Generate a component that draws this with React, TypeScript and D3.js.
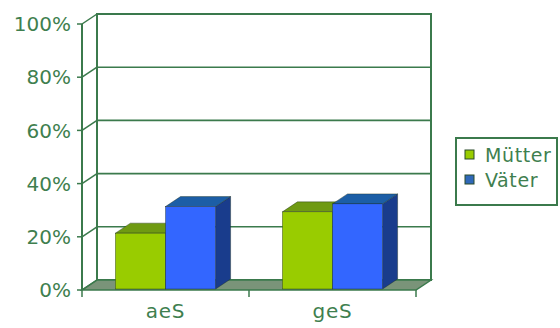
import React from "react";
import * as d3 from "d3";

const categories = ["aeS", "geS"];
const seriesNames = ["Mütter", "Väter"];
const muetter = [0.21, 0.29];
const vaeter = [0.31, 0.32];
const yTicks = [0, 0.2, 0.4, 0.6, 0.8, 1];

const frontColors = ["#99cc00", "#3366ff"];
const topColors = ["#6f9a12", "#1c5ea6"];
const sideColors = ["#5a7f05", "#193c8c"];
const legendColors = ["#99cc00", "#2f68b8"];
const lineColor = "#3b7a4c";
const textColor = "#3f7f4f";

const App: React.FC = () => {
  const width = 560;
  const height = 328;
  const dx = 15;
  const dy = -10;

  const y = d3.scaleLinear().domain([0, 1]).range([290, 24]);
  const x = d3
    .scaleBand<string>()
    .domain(categories)
    .range([82, 416])
    .paddingInner(0.4)
    .paddingOuter(0.2);
  const xs = d3
    .scaleBand<string>()
    .domain(seriesNames)
    .range([0, x.bandwidth()]);

  const series = [muetter, vaeter];
  const x0 = x.range()[0];
  const x1 = x.range()[1];
  const y0 = y(0);

  // band edges for the category ticks
  const edges = d3
    .range(categories.length + 1)
    .map((i) => x0 + (i * (x1 - x0)) / categories.length);

  return (
    <svg
      width={width}
      height={height}
      style={{ position: "fixed", left: 0, top: 0, background: "#fff" }}
      fontFamily="DejaVu Sans, Verdana, sans-serif"
    >
      {/* back wall */}
      <rect
        x={x0 + dx}
        y={y(1) + dy}
        width={x1 - x0}
        height={y0 - y(1)}
        fill="#fff"
        stroke={lineColor}
        strokeWidth={2}
      />
      {/* gridlines */}
      {yTicks.map((t) => (
        <line
          key={"g" + t}
          x1={x0 + dx}
          x2={x1 + dx}
          y1={y(t) + dy}
          y2={y(t) + dy}
          stroke={lineColor}
          strokeWidth={1.6}
        />
      ))}
      {/* floor */}
      <polygon
        points={`${x0},${y0} ${x1},${y0} ${x1 + dx},${y0 + dy} ${x0 + dx},${y0 + dy}`}
        fill="#7a9479"
        stroke={lineColor}
        strokeWidth={1.5}
      />
      {/* left wall */}
      {yTicks.map((t) => (
        <line
          key={"c" + t}
          x1={x0}
          y1={y(t)}
          x2={x0 + dx}
          y2={y(t) + dy}
          stroke={lineColor}
          strokeWidth={1.5}
        />
      ))}
      <line x1={x0} x2={x0} y1={y(1)} y2={y0} stroke={lineColor} strokeWidth={2} />
      <line x1={x0 + dx} x2={x0 + dx} y1={y(1) + dy} y2={y0 + dy} stroke={lineColor} strokeWidth={2} />
      {/* y ticks */}
      {yTicks.map((t) => (
        <g key={"t" + t}>
          <line x1={x0 - 5} x2={x0} y1={y(t)} y2={y(t)} stroke={lineColor} strokeWidth={1.5} />
          <text
            x={x0 - 11}
            y={y(t)}
            dy="0.36em"
            textAnchor="end"
            fontSize={20}
            fill={textColor}
            letterSpacing={0}
          >
            {Math.round(t * 100) + "%"}
          </text>
        </g>
      ))}
      {/* bars */}
      {categories.map((c, ci) =>
        seriesNames.map((s, si) => {
          const v = series[si][ci];
          const bx = (x(c) || 0) + (xs(s) || 0);
          const bw = xs.bandwidth();
          const by = y(v) - 1;
          const bb = y0 - 1;
          return (
            <g key={c + s}>
              <polygon
                points={`${bx + bw},${by} ${bx + bw + dx},${by + dy} ${bx + bw + dx},${bb + dy} ${bx + bw},${bb}`}
                fill={sideColors[si]}
                stroke="#1d2d1d"
                strokeWidth={0.4}
              />
              <polygon
                points={`${bx},${by} ${bx + dx},${by + dy} ${bx + bw + dx},${by + dy} ${bx + bw},${by}`}
                fill={topColors[si]}
                stroke="#1d2d1d"
                strokeWidth={0.4}
              />
              <rect
                x={bx}
                y={by}
                width={bw}
                height={bb - by}
                fill={frontColors[si]}
                stroke="#1d2d1d"
                strokeWidth={0.4}
              />
            </g>
          );
        })
      )}
      {/* category axis */}
      {edges.map((e, i) => (
        <line key={"e" + i} x1={e} x2={e} y1={y0} y2={y0 + 7} stroke={lineColor} strokeWidth={1.5} />
      ))}
      {categories.map((c) => (
        <text
          key={"l" + c}
          x={(x(c) || 0) + x.bandwidth() / 2}
          y={y0 + 28}
          textAnchor="middle"
          fontSize={20}
          fill={textColor}
          letterSpacing={0.8}
        >
          {c}
        </text>
      ))}
      {/* legend */}
      <rect x={456} y={138} width={101} height={67} fill="#fff" stroke={lineColor} strokeWidth={2} />
      {seriesNames.map((s, si) => (
        <g key={"lg" + s}>
          <rect
            x={465}
            y={150 + si * 25}
            width={9}
            height={9}
            fill={legendColors[si]}
            stroke="#2a4a2a"
            strokeWidth={1}
          />
          <text
            x={485}
            y={155 + si * 25}
            dy="0.36em"
            fontSize={19}
            fill={textColor}
            letterSpacing={0.6}
          >
            {s}
          </text>
        </g>
      ))}
    </svg>
  );
};

export default App;
